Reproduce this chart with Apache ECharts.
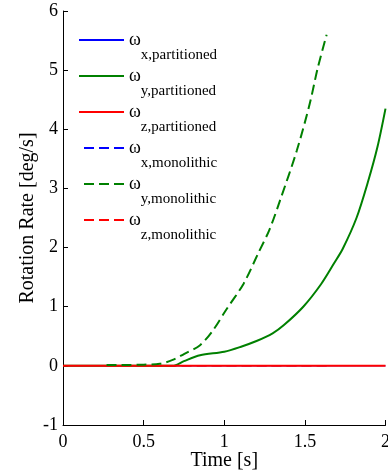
<!DOCTYPE html>
<html>
<head>
<meta charset="utf-8">
<script src="https://cdn.jsdelivr.net/npm/echarts@6/dist/echarts.min.js"></script>
<style>html,body{margin:0;padding:0;background:#fff;}#c{width:388px;height:476px;}</style>
</head>
<body>
<div id="c"></div>
<script>
// Time axis ticks
const xTicks = [0, 0.5, 1, 1.5, 2];
const yTicks = [-1, 0, 1, 2, 3, 4, 5, 6];

// Partitioned solution
const partTime = [0, 0.6, 0.68, 0.75, 0.85, 1.0, 1.1, 1.2, 1.3, 1.37, 1.49, 1.6, 1.68, 1.735, 1.82, 1.89, 1.95, 2.0];
const partWx   = [0, 0, 0, 0, 0, 0, 0, 0, 0, 0, 0, 0, 0, 0, 0, 0, 0, 0];
const partWy   = [0, 0, 0, 0.08, 0.18, 0.24, 0.32, 0.42, 0.55, 0.69, 1.0, 1.38, 1.73, 1.98, 2.5, 3.1, 3.7, 4.35];
const partWz   = [0, 0, 0, 0, 0, 0, 0, 0, 0, 0, 0, 0, 0, 0, 0, 0, 0, 0];

// Monolithic solution
const monoTime = [0.27, 0.4, 0.5, 0.6, 0.68, 0.75, 0.85, 0.93, 1.01, 1.12, 1.21, 1.28, 1.345, 1.45, 1.53, 1.58, 1.635];
const monoWx   = [0, 0, 0, 0, 0, 0, 0, 0, 0, 0, 0, 0, 0, 0, 0, 0, 0];
const monoWy   = [0.015, 0.015, 0.02, 0.035, 0.1, 0.2, 0.35, 0.6, 0.94, 1.39, 1.9, 2.3, 2.79, 3.64, 4.43, 5.04, 5.6];
const monoWz   = [0, 0, 0, 0, 0, 0, 0, 0, 0, 0, 0, 0, 0, 0, 0, 0, 0];

const names = ['x,partitioned', 'y,partitioned', 'z,partitioned', 'x,monolithic', 'y,monolithic', 'z,monolithic'];

function pairs(t, v) { return t.map((ti, i) => [ti, v[i]]); }

const FONT = '"Liberation Serif", "Times New Roman", serif';
const dash = [10, 5];

function mk(name, t, v, color, dashed, z, w) {
  return {
    name: name, type: 'line', data: pairs(t, v), showSymbol: false, symbol: 'none',
    smooth: 0.3, z: z, animation: false,
    lineStyle: { color: color, width: w, type: dashed ? dash : 'solid' },
    itemStyle: { color: color, opacity: 0 }
  };
}

const chart = echarts.init(document.getElementById('c'));
chart.setOption({
  animation: false,
  backgroundColor: '#fff',
  grid: { left: 63, right: 2.5, top: 11, bottom: 51, containLabel: false, outerBoundsMode: 'none' },
  legend: {
    orient: 'vertical', left: 78, top: 18, padding: 0,
    itemWidth: 45, itemHeight: 14, itemGap: -9,
    data: names,
    itemStyle: { opacity: 0 },
    lineStyle: { width: 2, dashOffset: 10 },
    formatter: function (n) { return '{w|ω}{s|' + n + '}'; },
    textStyle: {
      fontFamily: FONT, color: '#000', padding: [1, 0, 0, 0],
      rich: {
        w: { fontFamily: FONT, fontSize: 18, color: '#000', lineHeight: 8, padding: [0, 0, 0, 0] },
        s: { fontFamily: FONT, fontSize: 15, color: '#000', lineHeight: 8, padding: [30, 0, 0, 0] }
      }
    }
  },
  xAxis: {
    type: 'value', min: 0, max: 2, interval: 0.5,
    name: 'Time [s]', nameLocation: 'middle', nameGap: 26, nameMoveOverlap: false,
    nameTextStyle: { fontFamily: FONT, fontSize: 20, color: '#000' },
    axisLine: { show: true, onZero: false, lineStyle: { color: '#000', width: 1 } },
    axisTick: { show: true, inside: true, length: 5, lineStyle: { color: '#000' } },
    axisLabel: { fontFamily: FONT, fontSize: 18, color: '#000', margin: 8,
      formatter: function (v) { return String(v); } },
    splitLine: { show: false }
  },
  yAxis: {
    type: 'value', min: -1, max: 6, interval: 1,
    name: 'Rotation Rate [deg/s]', nameLocation: 'middle', nameGap: 25, nameMoveOverlap: false,
    nameTextStyle: { fontFamily: FONT, fontSize: 20, color: '#000' },
    axisLine: { show: true, onZero: false, lineStyle: { color: '#000', width: 1 } },
    axisTick: { show: true, inside: true, length: 5, lineStyle: { color: '#000' } },
    axisLabel: { fontFamily: FONT, fontSize: 18, color: '#000', margin: 5 },
    splitLine: { show: false }
  },
  series: [
    mk(names[0], partTime, partWx, '#0000FF', false, 2, 1),
    mk(names[3], monoTime, monoWx, '#0000FF', true, 2, 1),
    mk(names[1], partTime, partWy, '#008000', false, 3, 2),
    mk(names[5], monoTime, monoWz, '#FF0000', true, 3, 1),
    mk(names[2], partTime, partWz, '#FF0000', false, 5, 2),
    mk(names[4], monoTime, monoWy, '#008000', true, 6, 2)
  ]
});
</script>
</body>
</html>
